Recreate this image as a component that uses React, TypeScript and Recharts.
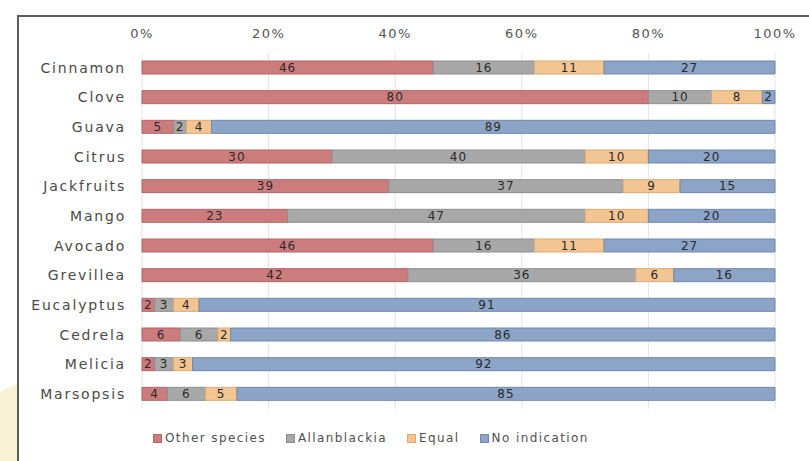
import React from 'react'
import {
  BarChart,
  Bar,
  XAxis,
  YAxis,
  CartesianGrid,
  Legend,
  LabelList,
} from 'recharts'

// Tree species, top to bottom
const species = [
  'Cinnamon',
  'Clove',
  'Guava',
  'Citrus',
  'Jackfruits',
  'Mango',
  'Avocado',
  'Grevillea',
  'Eucalyptus',
  'Cedrela',
  'Melicia',
  'Marsopsis',
]

// Answers per species (counts, shown as share of 100%)
const otherSpecies = [46, 80, 5, 30, 39, 23, 46, 42, 2, 6, 2, 4]
const allanblackia = [16, 10, 2, 40, 37, 47, 16, 36, 3, 6, 3, 6]
const equal = [11, 8, 4, 10, 9, 10, 11, 6, 4, 2, 3, 5]
const noIndication = [27, 2, 89, 20, 15, 20, 27, 16, 91, 86, 92, 85]

const xTicks = [0, 0.2, 0.4, 0.6, 0.8, 1]

const data = species.map((name, i) => ({
  name,
  other: otherSpecies[i],
  allan: allanblackia[i],
  equal: equal[i],
  none: noIndication[i],
}))

const series = [
  { key: 'other', label: 'Other species', fill: '#cd7c7e', stroke: '#b56466' },
  { key: 'allan', label: 'Allanblackia', fill: '#a8a8a9', stroke: '#8e8e90' },
  { key: 'equal', label: 'Equal', fill: '#f2c592', stroke: '#dcaa74' },
  { key: 'none', label: 'No indication', fill: '#8ba4c7', stroke: '#6f89ae' },
]

const FONT = '"DejaVu Sans", Verdana, sans-serif'

function LegendBox() {
  return (
    <div
      style={{
        height: 39,
        display: 'flex',
        alignItems: 'flex-end',
        paddingLeft: 153,
        fontFamily: FONT,
        fontSize: 12,
        letterSpacing: 1.4,
        color: '#505050',
        lineHeight: '20px',
      }}
    >
      {series.map((s) => (
        <div key={s.key} style={{ display: 'flex', alignItems: 'center', marginRight: 20 }}>
          <span
            style={{
              display: 'inline-block',
              width: 7,
              height: 7,
              background: s.fill,
              border: `1px solid ${s.stroke}`,
              marginRight: 3,
            }}
          />
          {s.label}
        </div>
      ))}
    </div>
  )
}

export default function App() {
  return (
    <div
      style={{
        position: 'absolute',
        left: 0,
        top: 0,
        width: 809,
        height: 461,
        background: '#ffffff',
        overflow: 'hidden',
      }}
    >
      <svg width={809} height={461} style={{ position: 'absolute', left: 0, top: 0 }}>
        <polygon points="0,392 17,383 17,461 0,461" fill="#f8f3d4" />
        <line x1={18} y1={16} x2={809} y2={16} stroke="#5c5c5c" strokeWidth={2} />
        <line x1={18} y1={15} x2={18} y2={461} stroke="#5c5c5c" strokeWidth={2} />
      </svg>
      <div style={{ position: 'absolute', left: 0, top: 0 }}>
        <BarChart
          width={809}
          height={461}
          data={data}
          layout="vertical"
          stackOffset="expand"
          barSize={13}
          margin={{ top: 23, right: 34, left: 0, bottom: 13 }}
        >
          <CartesianGrid horizontal={false} stroke="#e3e3e3" />
          <XAxis
            type="number"
            orientation="top"
            domain={[0, 1]}
            ticks={xTicks}
            height={30}
            tickSize={0}
            tickMargin={15}
            axisLine={false}
            tickLine={false}
            tickFormatter={(v: number) => `${Math.round(v * 100)}%`}
            tick={{ fill: '#555', fontSize: 13, fontFamily: FONT, letterSpacing: 1.5 }}
          />
          <YAxis
            type="category"
            dataKey="name"
            width={142}
            tickSize={0}
            tickMargin={16}
            axisLine={false}
            tickLine={false}
            interval={0}
            tick={{ fill: '#4a4a4a', fontSize: 14, fontFamily: FONT, letterSpacing: 1.8 }}
          />
          <Legend
            verticalAlign="bottom"
            content={() => <LegendBox />}
            wrapperStyle={{ left: 0, width: 809 }}
          />
          {series.map((s) => (
            <Bar
              key={s.key}
              dataKey={s.key}
              name={s.label}
              stackId="a"
              fill={s.fill}
              stroke={s.stroke}
              strokeWidth={1}
              isAnimationActive={false}
            >
              <LabelList
                dataKey={s.key}
                position="center"
                fill="#2a2a2a"
                fontSize={12}
                fontFamily={FONT}
                letterSpacing={1}
              />
            </Bar>
          ))}
        </BarChart>
      </div>
    </div>
  )
}
